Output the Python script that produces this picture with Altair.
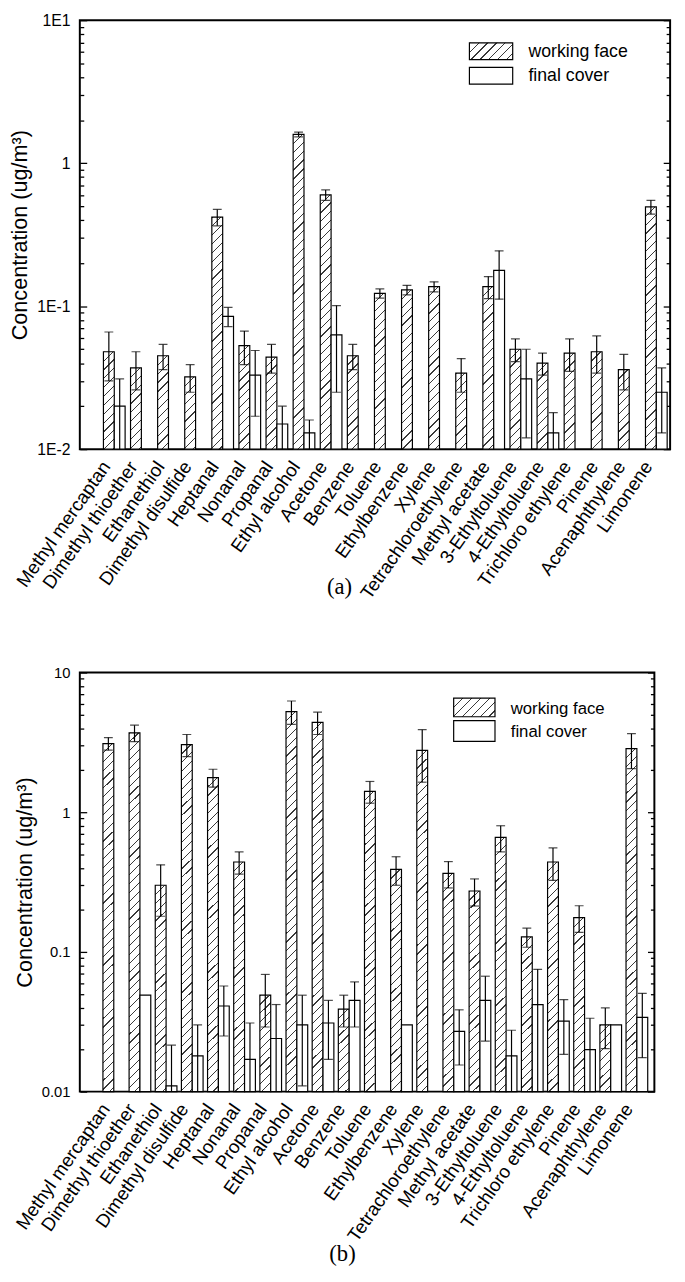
import math
import altair as alt

categories = ["Methyl mercaptan", "Dimethyl thioether", "Ethanethiol", "Dimethyl disulfide",
              "Heptanal", "Nonanal", "Propanal", "Ethyl alcohol", "Acetone", "Benzene",
              "Toluene", "Ethylbenzene", "Xylene", "Tetrachloroethylene", "Methyl acetate",
              "3-Ethyltoluene", "4-Ethyltoluene", "Trichloro ethylene", "Pinene",
              "Acenaphthylene", "Limonene"]
series = ["working face", "final cover"]

# panel (a)
a_wf = [0.048, 0.037, 0.045, 0.032, 0.42, 0.053, 0.044, 1.59, 0.60, 0.045, 0.123,
        0.130, 0.137, 0.034, 0.137, 0.050, 0.040, 0.047, 0.048, 0.036, 0.495]
a_wf_err = [0.018, 0.011, 0.009, 0.007, 0.055, 0.014, 0.010, 0.06, 0.05, 0.009, 0.009,
            0.010, 0.011, 0.009, 0.024, 0.009, 0.007, 0.012, 0.014, 0.010, 0.055]
a_fc = [0.020, None, None, None, 0.085, 0.033, 0.015, 0.013, 0.063, None, None,
        None, None, None, 0.178, 0.031, 0.013, None, None, None, 0.025]
a_fc_err = [0.011, None, None, None, 0.013, 0.016, 0.005, 0.003, 0.038, None, None,
            None, None, None, 0.066, 0.019, 0.005, None, None, None, 0.012]

# panel (b)
b_wf = [3.1, 3.7, 0.30, 3.05, 1.77, 0.44, 0.049, 5.25, 4.4, 0.039, 1.41,
        0.39, 2.77, 0.365, 0.273, 0.66, 0.128, 0.44, 0.176, 0.030, 2.85]
b_wf_err = [0.32, 0.5, 0.12, 0.55, 0.26, 0.08, 0.02, 1.0, 0.8, 0.01, 0.25,
            0.09, 1.13, 0.078, 0.06, 0.14, 0.02, 0.115, 0.038, 0.0097, 0.8]
b_fc = [None, 0.049, 0.011, 0.018, 0.041, 0.017, 0.024, 0.030, 0.031, 0.045, None,
        0.030, None, 0.027, 0.045, 0.018, 0.042, 0.032, 0.020, 0.030, 0.034]
b_fc_err = [None, 0.0, 0.0105, 0.012, 0.016, 0.014, 0.018, 0.019, 0.014, 0.016, None,
            0.0, None, 0.0115, 0.022, 0.0095, 0.033, 0.0135, 0.0135, 0.0, 0.0165]

a_ticklabels = ["1E-2", "1E-1", "1", "1E1"]
b_ticklabels = ["0.01", "0.1", "1", "10"]
major_vals = [0.01, 0.1, 1, 10]
minor_vals = [round(d * k, 4) for d in [0.01, 0.1, 1] for k in range(1, 10)] + [10]

FONT = "Liberation Sans"
YMIN, YMAX = 0.01, 10


def hatch(w, h, period=9.0, line=1.2, color="#3a3a3a"):
    """Diagonal '/' hatch as a bbox-relative linear gradient."""
    T = w + h
    s = T / (w * w + h * h)
    stops = []
    pos = 0.0
    while pos < T:
        a = pos / T
        b = min((pos + line) / T, 1.0)
        c = min((pos + period) / T, 1.0)
        stops += [{"offset": round(a, 5), "color": color},
                  {"offset": round(b, 5), "color": color},
                  {"offset": round(b, 5), "color": "white"},
                  {"offset": round(c, 5), "color": "white"}]
        pos += period
    return {"gradient": "linear", "x1": 0, "y1": 0,
            "x2": round(s * w, 6), "y2": round(s * h, 6), "stops": stops}


MAJOR_TEST = "abs(log(datum.value)/LN10 - round(log(datum.value)/LN10)) < 0.01"


def panel(wf, wf_err, fc, fc_err, W, H, rng, pad_inner, ticklabels, tick_fs,
          title_fs, xlab_fs, leg, leg_fs, plabel, plabel_xy):
    ppd = H / 3.0
    step = (rng[1] - rng[0]) / (len(categories) - pad_inner)
    bar_w = step * (1 - pad_inner) / 2
    rows = []
    for i, cat in enumerate(categories):
        h = (math.log10(wf[i]) - math.log10(YMIN)) * ppd
        rows.append({"cat": cat, "series": series[0], "value": wf[i],
                     "err": wf_err[i], "grad": hatch(bar_w, h)})
        if fc[i] is not None:
            rows.append({"cat": cat, "series": series[1], "value": fc[i],
                         "err": fc_err[i], "grad": "white"})
    data = alt.Data(values=rows)

    yscale = alt.Scale(type="log", domain=[YMIN, YMAX], nice=False)
    label_expr = " : ".join(
        f"datum.value < {v * 1.5} ? '{t}'" for v, t in zip(major_vals[:-1], ticklabels[:-1])
    ) + f" : '{ticklabels[-1]}'"
    tick_size = {"condition": {"test": MAJOR_TEST, "value": 7}, "value": 4}

    def x_enc():
        return alt.X("cat:N", sort=categories,
                     scale=alt.Scale(range=rng, paddingInner=pad_inner, paddingOuter=0),
                     axis=alt.Axis(title=None, labelAngle=305, labelAlign="right",
                                   labelBaseline="middle", labelFontSize=xlab_fs,
                                   labelFont=FONT, labelColor="black", labelPadding=14,
                                   labelOffset=-8,
                                   ticks=False, domain=False, labelOverlap=False,
                                   labelLimit=400))

    xoff = alt.XOffset("series:N", sort=series,
                       scale=alt.Scale(paddingInner=0, paddingOuter=0))

    bars = alt.Chart(data).mark_bar(stroke="black", strokeWidth=1.2).encode(
        x=x_enc(), xOffset=xoff,
        y=alt.Y("value:Q", stack=None, scale=yscale,
                axis=alt.Axis(orient="left", values=major_vals, labelExpr=label_expr,
                              ticks=False, tickSize=0, domain=False, grid=False,
                              title="Concentration (ug/m³)", titleFont=FONT,
                              titleFontSize=title_fs, titleFontWeight="normal",
                              titleColor="black", titlePadding=5,
                              labelFont=FONT, labelFontSize=tick_fs,
                              labelColor="black", labelPadding=10)),
        y2=alt.Y2Datum(YMIN),
        fill=alt.Fill("grad:N", scale=None, legend=None),
    )

    errbase = alt.Chart(data).transform_filter("datum.err > 0").transform_calculate(
        lower="datum.value - datum.err", upper="datum.value + datum.err")

    rules = errbase.mark_rule(color="black", strokeWidth=1.2, clip=True).encode(
        x=x_enc(), xOffset=xoff,
        y=alt.Y("lower:Q", scale=yscale,
                axis=alt.Axis(orient="right", offset=-W, values=minor_vals, labels=False,
                              domain=False, grid=False, title=None, ticks=True,
                              tickSize=tick_size, tickColor="black", tickWidth=1.3)),
        y2="upper:Q",
    )
    caps = errbase.transform_fold(["lower", "upper"], as_=["end", "pos"]).mark_tick(
        color="black", thickness=1.2, size=9, clip=True).encode(
        x=x_enc(), xOffset=xoff,
        y=alt.Y("pos:Q", scale=yscale,
                axis=alt.Axis(orient="left", offset=-W, values=minor_vals, labels=False,
                              domain=False, grid=False, title=None, ticks=True,
                              tickSize=tick_size, tickColor="black", tickWidth=1.3)),
    )

    one = alt.Data(values=[{"k": 1}])
    (bx0, bx1, y_wf, y_fc, tx, ty_wf, ty_fc) = leg
    leg_wf = alt.Chart(one).mark_rect(stroke="black", strokeWidth=1.2).encode(
        x=alt.value(bx0), x2=alt.value(bx1), y=alt.value(y_wf[0]), y2=alt.value(y_wf[1]),
        fill=alt.value(hatch(bx1 - bx0, y_wf[1] - y_wf[0])))
    leg_fc = alt.Chart(one).mark_rect(stroke="black", strokeWidth=1.2, fill="white").encode(
        x=alt.value(bx0), x2=alt.value(bx1), y=alt.value(y_fc[0]), y2=alt.value(y_fc[1]))
    leg_t1 = alt.Chart(one).mark_text(align="left", baseline="middle", font=FONT,
                                      fontSize=leg_fs, color="black").encode(
        x=alt.value(tx), y=alt.value(ty_wf), text=alt.value(series[0]))
    leg_t2 = alt.Chart(one).mark_text(align="left", baseline="middle", font=FONT,
                                      fontSize=leg_fs, color="black").encode(
        x=alt.value(tx), y=alt.value(ty_fc), text=alt.value(series[1]))
    lab = alt.Chart(one).mark_text(align="center", baseline="middle",
                                   font="Liberation Serif", fontSize=23,
                                   color="black").encode(
        x=alt.value(plabel_xy[0]), y=alt.value(plabel_xy[1]), text=alt.value(plabel))

    return alt.layer(bars, rules, caps, leg_wf, leg_fc, leg_t1, leg_t2, lab).resolve_axis(
        y="independent").properties(width=W, height=H)


pa = panel(a_wf, a_wf_err, a_fc, a_fc_err, W=600, H=436, rng=[24, 597], pad_inner=0.2,
           ticklabels=a_ticklabels, tick_fs=16, title_fs=22, xlab_fs=19,
           leg=(396, 440, (23, 40), (48, 65), 456, 32, 57), leg_fs=18,
           plabel="(a)", plabel_xy=(264, 576))
pb = panel(b_wf, b_wf_err, b_fc, b_fc_err, W=584, H=426, rng=[23.5, 577], pad_inner=0.18,
           ticklabels=b_ticklabels, tick_fs=15, title_fs=22, xlab_fs=19,
           leg=(380, 422, (26, 45), (49, 70), 438, 37.5, 60.5), leg_fs=17,
           plabel="(b)", plabel_xy=(267, 591))

chart = alt.vconcat(pa, pb, spacing=62).configure_view(
    stroke="black", strokeWidth=2).properties(
    padding={"left": 0, "top": -7, "right": 5, "bottom": 0})

chart.save("out.html", embed_options={"renderer": "svg", "actions": False})
